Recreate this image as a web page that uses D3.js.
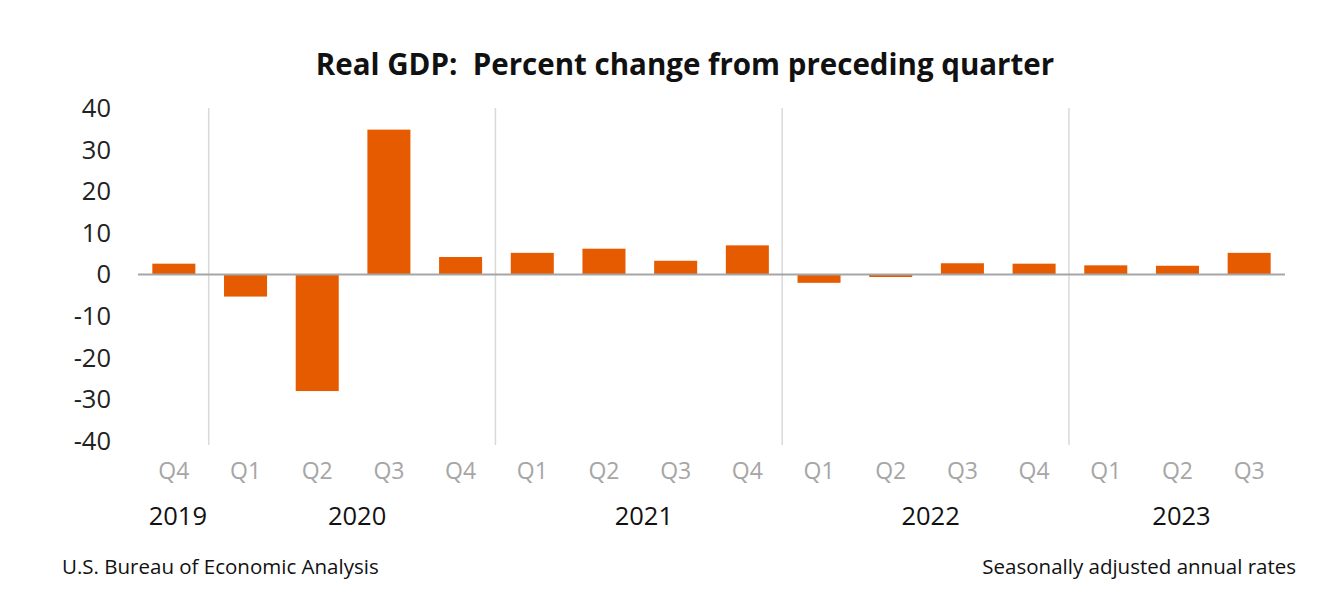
<!DOCTYPE html>
<html>
<head>
<meta charset="utf-8">
<script src="https://cdn.jsdelivr.net/npm/d3@7"></script>
<style>
  body { margin: 0; background: #fff; }
  text { font-family: "Open Sans", "Noto Sans", sans-serif; }
</style>
</head>
<body>
<div id="vis"></div>
<script>
// quarters shown on the category axis
var quarters = ["Q4", "Q1", "Q2", "Q3", "Q4", "Q1", "Q2", "Q3", "Q4", "Q1", "Q2", "Q3", "Q4", "Q1", "Q2", "Q3"];
var years = ["2019", "2020", "2020", "2020", "2020", "2021", "2021", "2021", "2021", "2022", "2022", "2022", "2022", "2023", "2023", "2023"];
var gdpChange = [2.6, -5.3, -28.0, 34.8, 4.2, 5.2, 6.2, 3.3, 7.0, -2.0, -0.6, 2.7, 2.6, 2.2, 2.1, 5.2];
var yTicks = [40, 30, 20, 10, 0, -10, -20, -30, -40];
var yearLabels = ["2019", "2020", "2021", "2022", "2023"];

var width = 1344, height = 616;
var plotLeft = 138, plotRight = 1285, plotTop = 108, plotBottom = 441;

var svg = d3.select("#vis").append("svg")
    .attr("width", width)
    .attr("height", height);

var keys = d3.range(gdpChange.length);

var x = d3.scaleBand()
    .domain(keys)
    .range([plotLeft, plotRight])
    .paddingInner(0.4)
    .paddingOuter(0.2);

var y = d3.scaleLinear()
    .domain([-40, 40])
    .range([plotBottom, plotTop]);

// title
svg.append("text")
    .attr("x", 685)
    .attr("y", 75)
    .attr("text-anchor", "middle")
    .style("font-size", "29.5px")
    .style("font-weight", "bold")
    .style("fill", "#111")
    .text("Real GDP:\u00a0\u00a0Percent change from preceding quarter");

// y axis labels
svg.selectAll(".ytick")
    .data(yTicks)
    .enter().append("text")
    .attr("class", "ytick")
    .attr("x", 111)
    .attr("y", function(d) { return y(d); })
    .attr("dy", "0.35em")
    .attr("text-anchor", "end")
    .style("font-size", "25.5px")
    .style("fill", "#222")
    .text(function(d) { return d; });

// year separators, half a gap before the first quarter of each year
var bounds = [];
for (var i = 1; i < years.length; i++)
{
    if (years[i] !== years[i - 1]) bounds.push(i);
}
var gap = (x.step() - x.bandwidth()) / 2;
svg.selectAll(".sep")
    .data(bounds)
    .enter().append("line")
    .attr("class", "sep")
    .attr("x1", function(i) { return x(i) - gap - 1; })
    .attr("x2", function(i) { return x(i) - gap - 1; })
    .attr("y1", plotTop)
    .attr("y2", plotBottom + 4)
    .style("stroke", "#d9d9d9")
    .style("stroke-width", 1.5);

// bars
svg.selectAll(".bar")
    .data(keys)
    .enter().append("rect")
    .attr("class", "bar")
    .attr("x", function(i) { return x(i); })
    .attr("width", x.bandwidth())
    .attr("y", function(i) { return y(Math.max(0, gdpChange[i])); })
    .attr("height", function(i) { return Math.abs(y(gdpChange[i]) - y(0)); })
    .style("fill", "#e65a00");

// zero line
svg.append("line")
    .attr("x1", plotLeft)
    .attr("x2", plotRight)
    .attr("y1", y(0))
    .attr("y2", y(0))
    .style("stroke", "#a6a6a6")
    .style("stroke-width", 2);

// quarter labels
svg.selectAll(".qlab")
    .data(keys)
    .enter().append("text")
    .attr("class", "qlab")
    .attr("x", function(i) { return x(i) + x.bandwidth() / 2; })
    .attr("y", 479)
    .attr("text-anchor", "middle")
    .style("font-size", "23px")
    .style("fill", "#a6a6a6")
    .text(function(i) { return quarters[i]; });

// year labels centred under their quarters
svg.selectAll(".ylab")
    .data(yearLabels)
    .enter().append("text")
    .attr("class", "ylab")
    .attr("x", function(yr) {
        var idx = keys.filter(function(i) { return years[i] === yr; });
        var a = x(idx[0]), b = x(idx[idx.length - 1]) + x.bandwidth();
        return (a + b) / 2 + 4;
    })
    .attr("y", 525)
    .attr("text-anchor", "middle")
    .style("font-size", "25.5px")
    .style("fill", "#111")
    .text(function(d) { return d; });

// footer
svg.append("text")
    .attr("x", 62)
    .attr("y", 574)
    .style("font-size", "20.5px")
    .style("fill", "#111")
    .text("U.S. Bureau of Economic Analysis");

svg.append("text")
    .attr("x", 1296)
    .attr("y", 574)
    .attr("text-anchor", "end")
    .style("font-size", "20.5px")
    .style("fill", "#111")
    .text("Seasonally adjusted annual rates");
</script>
</body>
</html>
